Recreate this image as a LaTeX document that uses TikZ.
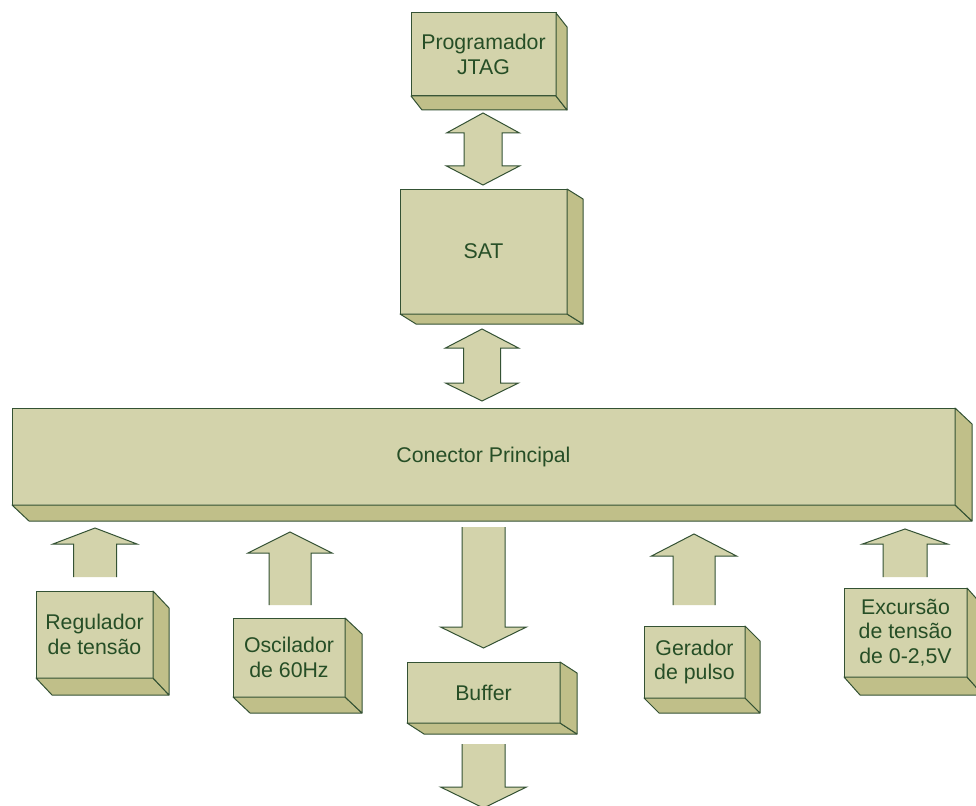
\documentclass[tikz,border=0pt]{standalone}
\usepackage{fontspec}
\setmainfont{Liberation Sans}
\usetikzlibrary{calc}
\definecolor{facecol}{RGB}{211,211,171}
\definecolor{sidecol}{RGB}{192,191,137}
\definecolor{edgecol}{RGB}{52,82,52}
\definecolor{txtcol}{RGB}{38,78,38}
\tikzset{
  frontbox/.style={rectangle, draw=edgecol, fill=facecol, line width=1pt, inner sep=0pt, outer sep=0pt,
    align=center, text=txtcol, font=\fontsize{21.3}{24.5}\selectfont},
  depthface/.style={draw=edgecol, fill=sidecol, line width=1pt, line join=round},
  arrowfill/.style={fill=facecol},
  arrowedge/.style={draw=edgecol, line width=1pt, line join=miter}
}
\newcommand\depthfaces[3]{%
  \path[depthface] (#1.south west) -- (#1.south east) -- ++(#2,#3) -- ($(#1.south west)+(#2,#3)$) -- cycle;
  \path[depthface] (#1.north east) -- ++(#2,#3) -- ($(#1.south east)+(#2,#3)$) -- (#1.south east) -- cycle;
}
% single block arrow: tipx tipy headbase halfhead halfshaft tail
\newcommand\singlearr[6]{%
  \path[arrowfill] ({#1-#5},#6) -- ({#1-#5},#3) -- ({#1-#4},#3) -- (#1,#2) -- ({#1+#4},#3) -- ({#1+#5},#3) -- ({#1+#5},#6) -- cycle;
  \path[arrowedge] ({#1-#5},#6) -- ({#1-#5},#3) -- ({#1-#4},#3) -- (#1,#2) -- ({#1+#4},#3) -- ({#1+#5},#3) -- ({#1+#5},#6);
}
% double block arrow: cx toptip topbase botbase bottip halfhead halfshaft
\newcommand\doublearr[7]{%
  \path[arrowfill,arrowedge] (#1,#2) -- ({#1+#6},#3) -- ({#1+#7},#3) -- ({#1+#7},#4) -- ({#1+#6},#4) -- (#1,#5)
    -- ({#1-#6},#4) -- ({#1-#7},#4) -- ({#1-#7},#3) -- ({#1-#6},#3) -- cycle;
}
\begin{document}
\begin{tikzpicture}[x=1pt,y=-1pt]
\useasboundingbox (0,0) rectangle (976,805);
\fill[white] (0,0) rectangle (976,805);

% boxes
\node[frontbox, minimum width=145pt, minimum height=83pt] (prog) at (483.5,54.5) {Programador\\JTAG};
\depthfaces{prog}{11}{14}
\node[frontbox, minimum width=167pt, minimum height=125pt] (sat) at (483.5,251.5) {SAT};
\depthfaces{sat}{16}{10}
\node[frontbox, minimum width=943pt, minimum height=97pt] (main) at (483.5,456.5) {Conector Principal};
\depthfaces{main}{17}{16}
\node[frontbox, minimum width=117pt, minimum height=87pt] (reg) at (94.5,634.5) {Regulador\\de tensão};
\depthfaces{reg}{16}{17}
\node[frontbox, minimum width=112pt, minimum height=79pt] (osc) at (289,657.5) {Oscilador\\de 60Hz};
\depthfaces{osc}{17}{16}
\node[frontbox, minimum width=153pt, minimum height=61pt] (buf) at (483.5,692.5) {Buffer};
\depthfaces{buf}{17}{11}
\node[frontbox, minimum width=101pt, minimum height=72pt] (ger) at (694.5,662) {Gerador\\de pulso};
\depthfaces{ger}{15}{15}
\node[frontbox, minimum width=123pt, minimum height=89pt] (exc) at (905.5,632.5) {Excursão\\de tensão\\de 0-2,5V};
\depthfaces{exc}{16}{18}

% double arrows
\doublearr{483}{113}{133}{166}{185}{36.5}{19}
\doublearr{482}{329}{348}{383}{401}{36.5}{18.5}

% up arrows
\singlearr{95}{528}{544}{42}{21.5}{577}
\singlearr{290}{532}{553}{42}{21}{605}
\singlearr{694}{534}{556}{42.5}{21}{605}
\singlearr{905}{529}{544}{42.5}{22}{577}

% down arrows
\singlearr{483.5}{648}{627}{43}{21.5}{527}
\singlearr{483.5}{808}{787}{43}{21.5}{744}
\end{tikzpicture}
\end{document}
